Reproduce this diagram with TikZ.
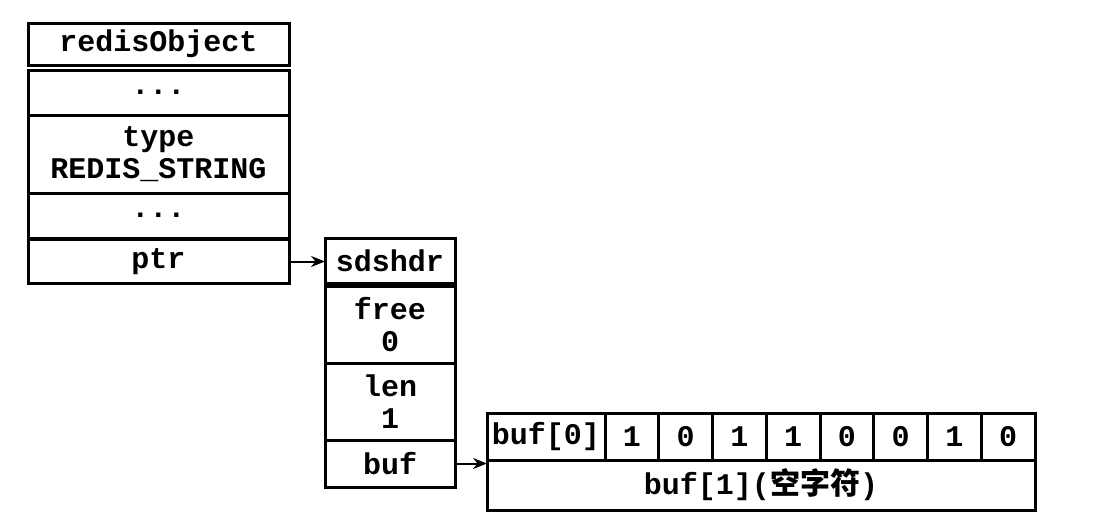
\documentclass[tikz,border=0pt]{standalone}
\usepackage{fontspec}
\setmonofont{Liberation Mono}
\newfontfamily\cjk{Noto Sans CJK SC}
\usetikzlibrary{positioning,arrows.meta}

\begin{document}
\begin{tikzpicture}[x=1pt, y=-1pt,
    every node/.style={font=\ttfamily\bfseries\fontsize{30}{32}\selectfont, line width=3pt, inner sep=0pt, outer sep=0pt},
    field/.style={draw, minimum width=261pt},
    hdrfield/.style={draw, minimum width=130pt, align=center},
    bit/.style={draw, minimum width=53.75pt, minimum height=47pt},
    link/.style={line width=2pt, -{Stealth[length=14pt,width=11pt]}}]
    \useasboundingbox (0,0) rectangle (1105,523);
    % redisObject
    \node[field, minimum height=42pt] (rhead) at (158.5,44) {redisObject};
    \node[field, minimum height=45pt, below=5pt of rhead] (rdots1) {...};
    \node[field, minimum height=78pt, below=0pt of rdots1, align=center] (rtype) {type\\REDIS\_STRING};
    \node[field, minimum height=45pt, below=0pt of rtype] (rdots2) {...};
    \node[field, minimum height=44pt, below=1.5pt of rdots2] (rptr) {ptr};
    % sdshdr
    \node[hdrfield, minimum height=45pt] (shead) at (390,260.5) {sdshdr};
    \node[hdrfield, minimum height=77pt, below=3pt of shead] (sfree) {free\\0};
    \node[hdrfield, minimum height=77pt, below=0pt of sfree] (slen) {len\\1};
    \node[hdrfield, minimum height=47pt, below=0pt of slen] (sbuf) {buf};
    % buf
    \node[draw, minimum width=118pt, minimum height=47pt] (b0) at (546,436.5) {buf[0]};
    \foreach \v [count=\i] in {1,0,1,1,0,0,1,0}
      \node[bit] (c\i) at (605+53.75*\i-26.875,436.5) {\v};
    \node[draw, minimum width=548pt, minimum height=50pt, anchor=north west] (bnull) at (b0.south west) {buf[1]({\cjk 空字符})};
    \draw[link] (rptr.east) -- (rptr.east -| shead.west);
    \draw[link] (sbuf.east) -- (sbuf.east -| b0.west);
\end{tikzpicture}
\end{document}
